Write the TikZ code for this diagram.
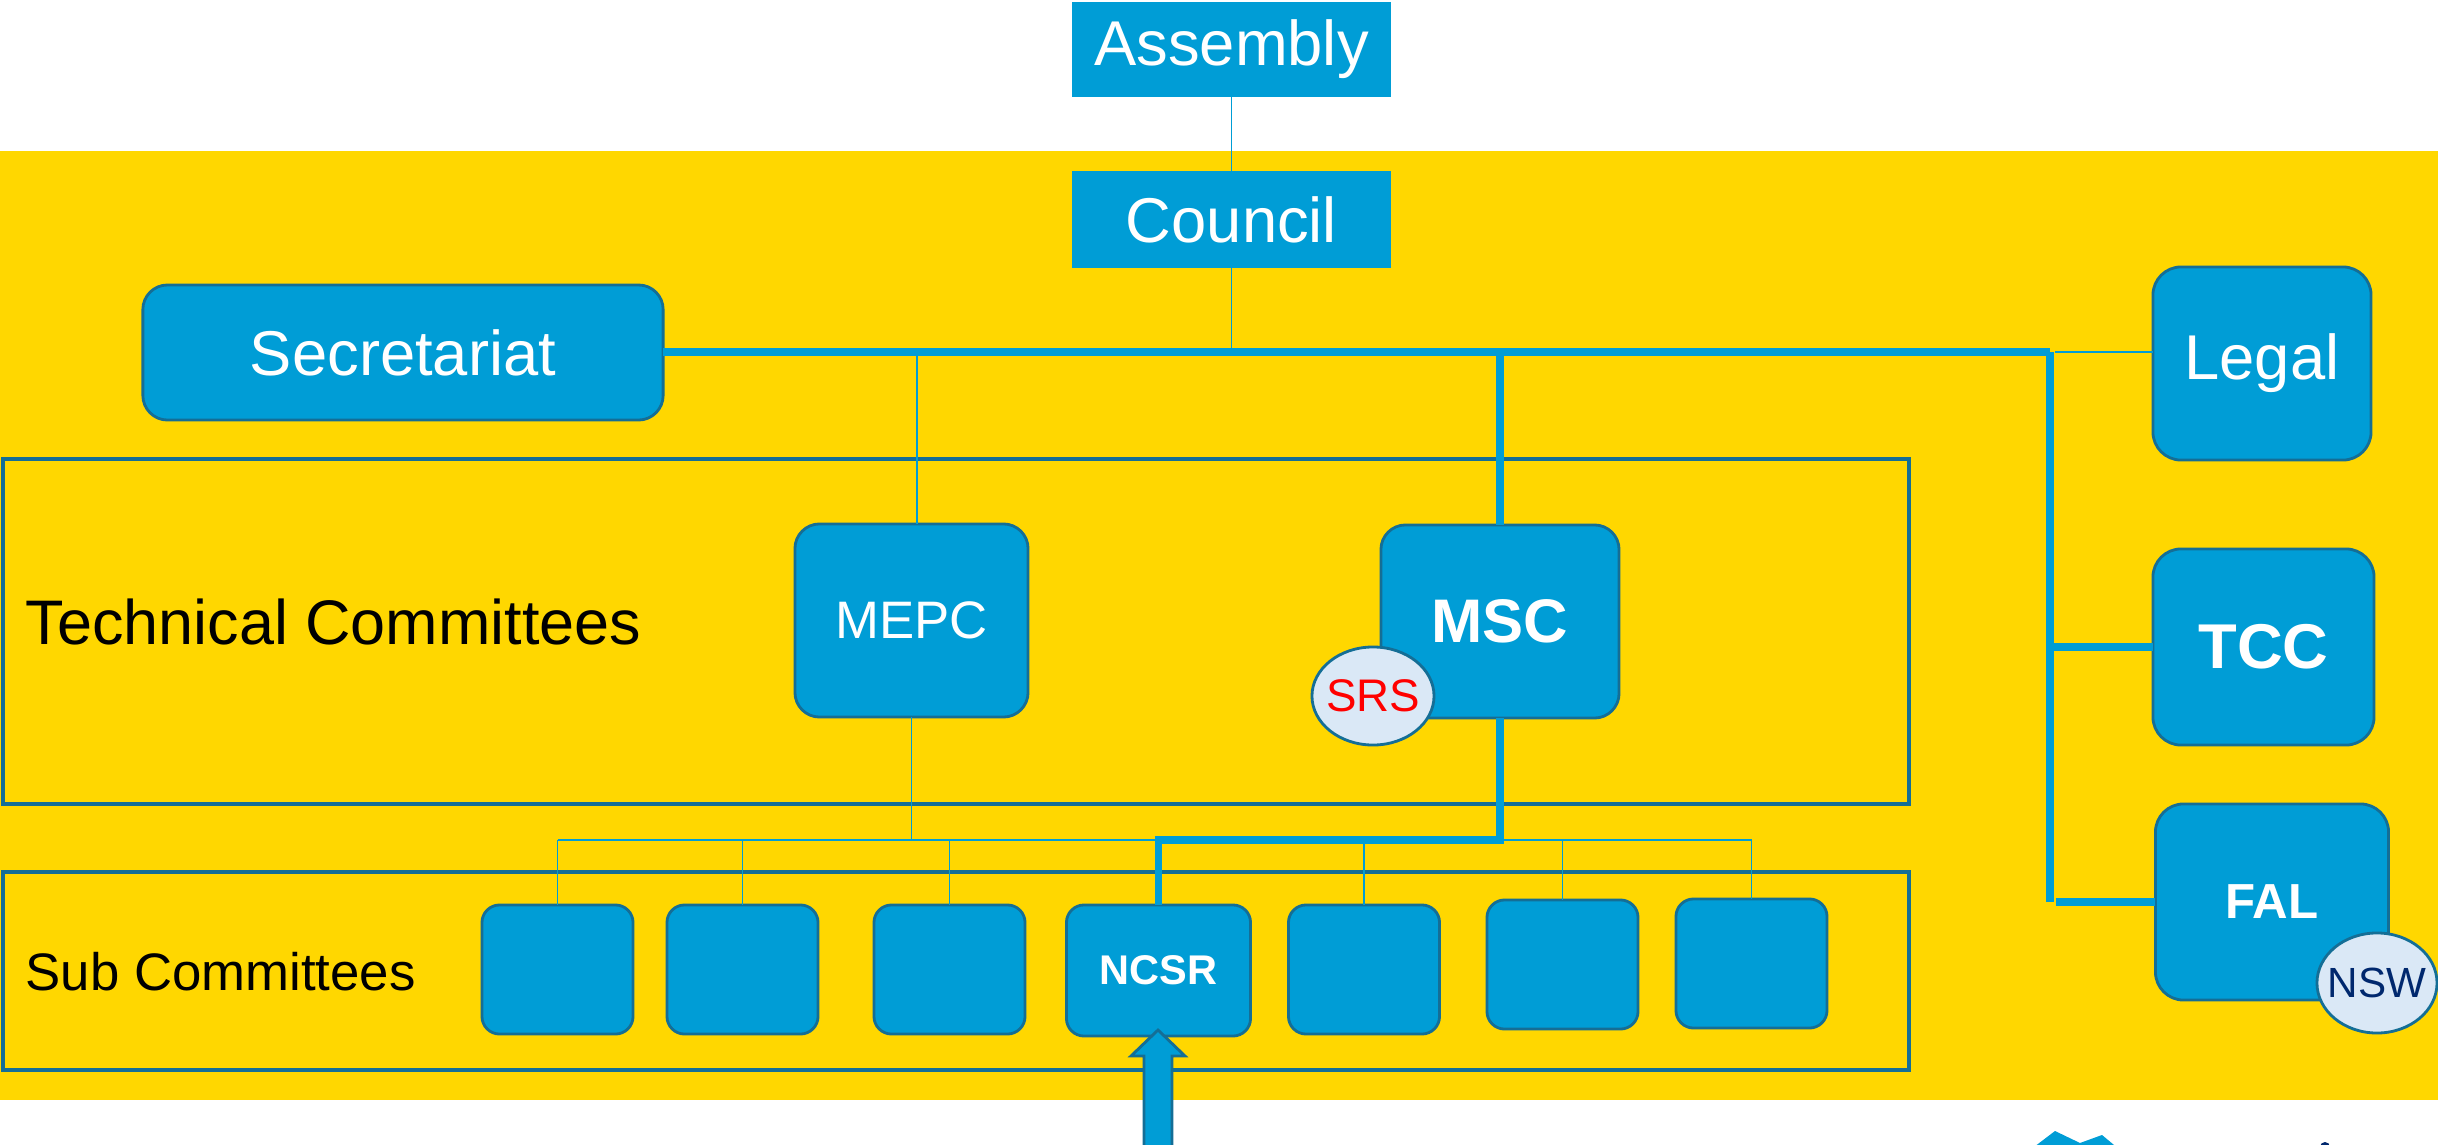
\documentclass[tikz,border=0pt]{standalone}
\usepackage{fontspec}
\setmainfont{Liberation Sans}
\usetikzlibrary{shapes.geometric}
\definecolor{bgyellow}{RGB}{255,215,0}
\definecolor{boxblue}{RGB}{0,157,214}
\definecolor{edgeblue}{RGB}{20,110,150}
\definecolor{bubble}{RGB}{218,232,246}
\definecolor{navy}{RGB}{0,40,110}
\newcommand{\fsz}[1]{\fontsize{#1}{#1}\selectfont}
\tikzset{
  flatbox/.style={fill=boxblue, draw=none, inner sep=0pt, outer sep=0pt, text=white},
  roundbox/.style={fill=boxblue, draw=edgeblue, line width=0.8pt, rounded corners=7pt,
    inner sep=0pt, outer sep=0pt, text=white},
  subbox/.style={roundbox, rounded corners=5pt, minimum width=1.51cm, minimum height=1.29cm},
  bubblenode/.style={ellipse, fill=bubble, draw=edgeblue, line width=0.8pt, inner sep=0pt},
  thinline/.style={draw=boxblue, line width=0.45pt},
  thickline/.style={draw=boxblue, line width=2pt},
  frame/.style={draw=edgeblue, line width=0.9pt},
}
\begin{document}
\begin{tikzpicture}[x=0.01cm, y=-0.01cm]
  % canvas and yellow band
  \useasboundingbox (0,0) rectangle (2438,1145);
  \fill[white] (0,0) rectangle (2438,1145);
  \fill[bgyellow] (0,151) rectangle (2438,1100);

  % group frames
  \draw[frame] (3,459) rectangle (1909,804);
  \draw[frame] (3,872) rectangle (1909,1070);
  \node[anchor=west, inner sep=0pt] (tclabel) at (25,622) {\fsz{17.9}Technical Committees};
  \node[anchor=west, inner sep=0pt] (sclabel) at (25,972) {\fsz{15}Sub Committees};

  % top level
  \node[flatbox, minimum width=3.18cm, minimum height=0.95cm] (assembly) at (1231.5,49.5) {\fsz{18}Assembly};
  \node[flatbox, minimum width=3.18cm, minimum height=0.97cm] (council) at (1231.5,219.5) {\fsz{18}Council};
  \node[roundbox, minimum width=5.2cm, minimum height=1.35cm] (secr) at (403,352.5) {\fsz{18}Secretariat};

  % right column
  \node[roundbox, rounded corners=8pt, minimum width=2.18cm, minimum height=1.93cm] (legal) at (2262,363.5) {\fsz{18}Legal};
  \node[roundbox, rounded corners=8pt, minimum width=2.21cm, minimum height=1.96cm] (tcc) at (2263.5,647) {\fsz{18}\bfseries TCC};
  \node[roundbox, rounded corners=8pt, minimum width=2.33cm, minimum height=1.96cm] (fal) at (2272,902) {\fsz{14}\bfseries FAL};
  \node[bubblenode, minimum width=1.2cm, minimum height=1.0cm, text=navy] (nsw) at (2377,983) {\makebox[0pt]{\fsz{12}NSW}};

  % technical committees
  \node[roundbox, minimum width=2.33cm, minimum height=1.93cm] (mepc) at (911.5,620.5) {\fsz{15}MEPC};
  \node[roundbox, minimum width=2.38cm, minimum height=1.93cm] (msc) at (1500,621.5) {\fsz{17.5}\bfseries MSC};
  \node[bubblenode, minimum width=1.22cm, minimum height=0.98cm, text=red] (srs) at (1373,696) {\makebox[0pt]{\fsz{13}SRS}};

  % sub committees
  \node[subbox] (s1) at (557.5,969.5) {};
  \node[subbox] (s2) at (742.5,969.5) {};
  \node[subbox] (s3) at (949.5,969.5) {};
  \node[subbox, minimum width=1.84cm, minimum height=1.31cm] (ncsr) at (1158.5,970.5) {\fsz{11.8}\bfseries NCSR};
  \node[subbox] (s5) at (1364,969.5) {};
  \node[subbox] (s6) at (1562.5,964.5) {};
  \node[subbox] (s7) at (1751.5,963.5) {};

  % junction points
  \coordinate (jr) at (2050,352);
  \coordinate (bus) at (0,840);

  % upper connectors
  \draw[thinline] (assembly.south) -- (council.north);
  \draw[thinline] (council.south) -- (council.south |- jr);
  \draw[thickline] (secr.east |- jr) -- (jr);
  \draw[thinline] (jr) ++(5,0) -- (jr -| legal.west);
  \draw[thinline] ([xshift=1.5pt]mepc.north) -- ([xshift=1.5pt]mepc.north |- jr);
  \draw[thickline] (msc.north) -- (msc.north |- jr);
  \draw[thickline] (jr) -- (jr |- fal.west);
  \draw[thickline] (jr |- tcc.west) -- (tcc.west);
  \draw[thickline] ([xshift=1.7pt]jr |- fal.west) -- (fal.west);

  % lower bus to sub committees
  \draw[thinline] (s1.north |- bus) -- (s7.north |- bus);
  \foreach \s in {s1,s2,s3,s5,s6,s7} {
    \draw[thinline] (\s.north |- bus) -- (\s.north);
  }
  \draw[thinline] (mepc.south) -- (mepc.south |- bus);
  \draw[thickline] (msc.south) -- (msc.south |- bus) -- (ncsr.north |- bus) -- (ncsr.north);

  % block arrow feeding NCSR from below
  \coordinate (feed) at (1158,1160);
  \filldraw[fill=boxblue, draw=edgeblue, line width=0.8pt]
    (1144,1160) -- (1144,1056) -- (1131,1056) -- (1158,1030) -- (1185,1056)
    -- (1172,1056) -- (1172,1160);

  % emblem peeking in at the bottom edge
  \fill[boxblue] (2030,1150) -- (2055,1131) -- (2080,1143) -- (2102,1135) -- (2120,1150) -- cycle;
  \fill[navy] (2325,1147) circle (5);
\end{tikzpicture}
\end{document}
